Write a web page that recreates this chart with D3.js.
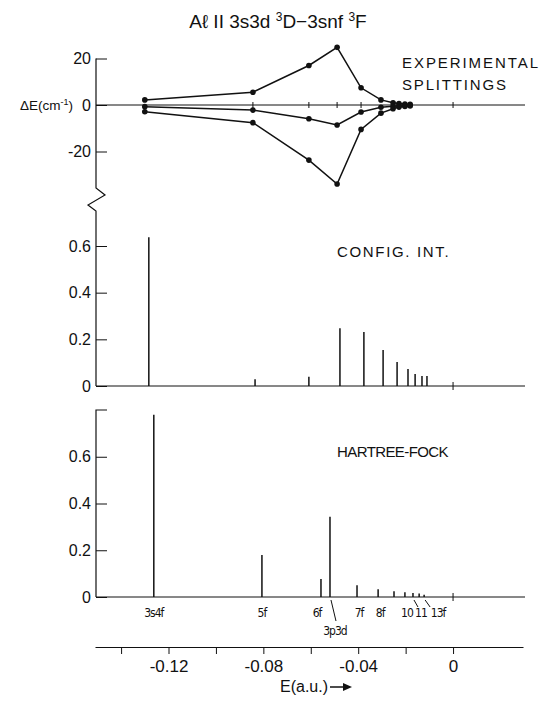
<!DOCTYPE html>
<html>
<head>
<meta charset="utf-8">
<script src="https://cdn.jsdelivr.net/npm/d3@7"></script>
<style>
  body { margin: 0; background: #fff; }
  svg { display: block; }
  text { font-family: 'Liberation Sans', Arial, sans-serif; fill: #111; }
  .narrow { font-family: 'DejaVu Sans Condensed', 'DejaVu Sans', sans-serif; font-stretch: condensed; }
  .tick line, .domain { stroke: #111; }
</style>
</head>
<body>
<script>
// experimental splittings (cm-1) vs level energy (a.u.)
const expE = [-0.130, -0.0844, -0.0608, -0.0489, -0.0388, -0.0304, -0.0253, -0.0228, -0.0203, -0.0181];
const expA = [2.2, 5.5, 17, 24.8, 7.4, 2.2, 1.0, 0.6, 0.4, 0.3];
const expB = [-0.7, -2.2, -5.9, -8.6, -3.0, -1.0, -0.5, -0.3, -0.2, -0.1];
const expC = [-2.9, -7.6, -23.7, -34, -10.5, -3.5, -1.6, -0.9, -0.6, -0.4];

// config. int. strengths
const ciE = [-0.1283, -0.0835, -0.0608, -0.0477, -0.0376, -0.0295, -0.0236, -0.0190, -0.0160, -0.0131, -0.0110];
const ciI = [0.638, 0.029, 0.040, 0.248, 0.231, 0.154, 0.103, 0.073, 0.051, 0.043, 0.043];

// hartree-fock strengths
const hfE = [-0.1262, -0.0806, -0.0557, -0.0519, -0.0405, -0.0316, -0.0249, -0.0203, -0.0169, -0.0143, -0.0122];
const hfI = [0.78, 0.18, 0.077, 0.343, 0.05, 0.033, 0.025, 0.02, 0.017, 0.015, 0.01];

const levelLabels = ['3s4f', '5f', '6f', '3p3d', '7f', '8f', '10', '11', '13f'];
const levelIndex = [0, 1, 2, 3, 4, 5, 7, 8, 10];

const yTicks = [0, 0.2, 0.4, 0.6];
const xTicks = [-0.14, -0.12, -0.10, -0.08, -0.06, -0.04, -0.02, 0];
const xLabels = ['', '-0.12', '', '-0.08', '', '-0.04', '', '0'];

const W = 540, H = 702;
const svg = d3.select('body').append('svg')
  .attr('width', W)
  .attr('height', H);

const x = d3.scaleLinear().domain([-0.151, 0.0295]).range([95, 523]);
const yTop = d3.scaleLinear().domain([-20, 20]).range([151.5, 58.5]);
const yMid = d3.scaleLinear().domain([0, 0.6]).range([386, 246]);
const yBot = d3.scaleLinear().domain([0, 0.8]).range([597, 410]);
const axisX = 96;

// title
const title = svg.append('text')
  .attr('x', 278)
  .attr('y', 28)
  .attr('text-anchor', 'middle')
  .style('font-size', '19px');
title.append('tspan').text('Aℓ II 3s3d ');
title.append('tspan').attr('dy', -7).style('font-size', '12px').text('3');
title.append('tspan').attr('dy', 7).text('D−3snf ');
title.append('tspan').attr('dy', -7).style('font-size', '12px').text('3');
title.append('tspan').attr('dy', 7).text('F');

const fmt = d => String(d).replace('−', '-');

// ---- top panel: experimental splittings
const gTop = svg.append('g').attr('transform', `translate(${axisX},0)`);
gTop.call(d3.axisLeft(yTop).tickValues([20, 0, -20]).tickSizeInner(-11).tickSizeOuter(0).tickPadding(5).tickFormat(fmt))
  .call(g => g.select('.domain').remove())
  .call(g => g.selectAll('.tick text').style('font-size', '16px'));

svg.append('text')
  .attr('x', 73)
  .attr('y', yTop(0))
  .attr('dy', '0.35em')
  .attr('text-anchor', 'end')
  .style('font-size', '13.5px')
  .call(t => {
    t.append('tspan').text('ΔE(cm');
    t.append('tspan').attr('dy', -5).style('font-size', '9px').text('-1');
    t.append('tspan').attr('dy', 5).text(')');
  });

// axis spine with break
svg.append('path')
  .attr('d', `M${axisX},${yTop(20)}V188L105,195L88,205L${axisX},211V${yMid(0)}`)
  .attr('fill', 'none')
  .attr('stroke', '#111')
  .attr('stroke-width', 1.2);

svg.append('line')
  .attr('x1', axisX).attr('x2', x.range()[1] + 2)
  .attr('y1', yTop(0)).attr('y2', yTop(0))
  .attr('stroke', '#111').attr('stroke-width', 1);

svg.append('g').selectAll('line')
  .data(expE.slice(1, 5).concat([0]))
  .join('line')
  .attr('x1', d => x(d)).attr('x2', d => x(d))
  .attr('y1', yTop(0) - 3).attr('y2', yTop(0) + 3)
  .attr('stroke', '#111');

const line = d3.line()
  .x((d, i) => x(expE[i]))
  .y(d => yTop(d));

const series = [expA, expB, expC];
svg.append('g').selectAll('path')
  .data(series)
  .join('path')
  .attr('d', line)
  .attr('fill', 'none')
  .attr('stroke', '#111')
  .attr('stroke-width', 1.5);

svg.append('g').selectAll('g')
  .data(series)
  .join('g')
  .selectAll('circle')
  .data(d => d)
  .join('circle')
  .attr('cx', (d, i) => x(expE[i]))
  .attr('cy', d => yTop(d))
  .attr('r', 2.8)
  .attr('fill', '#111');

svg.append('text').attr('x', 402).attr('y', 68).attr('textLength', 136).attr('lengthAdjust', 'spacing')
  .style('font-size', '15px').text('EXPERIMENTAL');
svg.append('text').attr('x', 402).attr('y', 90).attr('textLength', 104).attr('lengthAdjust', 'spacing')
  .style('font-size', '15px').text('SPLITTINGS');

// ---- stick panels
function sticks (yScale, energies, strengths, label, labelY) {
  const g = svg.append('g');
  g.append('g').attr('transform', `translate(${axisX},0)`)
    .call(d3.axisLeft(yScale).tickValues(yTicks).tickSizeInner(-11).tickSizeOuter(0).tickPadding(5)
      .tickFormat(d => d === 0 ? '0' : d3.format('.1f')(d)))
    .call(a => a.select('.domain').remove())
    .call(a => a.selectAll('.tick text').style('font-size', '16px'));

  g.append('line')
    .attr('x1', axisX).attr('x2', x.range()[1] + 2)
    .attr('y1', yScale(0)).attr('y2', yScale(0))
    .attr('stroke', '#111');

  g.append('line')
    .attr('x1', x(0)).attr('x2', x(0))
    .attr('y1', yScale(0) - 4).attr('y2', yScale(0) + 4)
    .attr('stroke', '#111');

  g.selectAll('.stick')
    .data(strengths)
    .join('line')
    .attr('class', 'stick')
    .attr('x1', (d, i) => x(energies[i]))
    .attr('x2', (d, i) => x(energies[i]))
    .attr('y1', yScale(0))
    .attr('y2', d => yScale(d))
    .attr('stroke', '#111')
    .attr('stroke-width', 1.5);

  g.append('text')
    .attr('x', 337)
    .attr('y', labelY)
    .attr('textLength', label.length * 9.3)
    .attr('lengthAdjust', 'spacing')
    .style('font-size', '15px')
    .text(label);
  return g;
}

sticks(yMid, ciE, ciI, 'CONFIG. INT.', 257);
sticks(yBot, hfE, hfI, 'HARTREE-FOCK', 457);

// bottom panel spine (bracketed top)
svg.append('path')
  .attr('d', `M${axisX + 11},${yBot(0.8)}H${axisX}V${yBot(0)}`)
  .attr('fill', 'none')
  .attr('stroke', '#111')
  .attr('stroke-width', 1.2);

// level labels
const labelDx = [0, 0, -4, 5, 2, 2, 2, 8, 14];
const labelDy = [20, 20, 20, 38, 20, 20, 20, 20, 20];
svg.append('g').selectAll('text')
  .data(levelLabels)
  .join('text')
  .attr('class', 'narrow')
  .attr('x', (d, i) => x(hfE[levelIndex[i]]) + labelDx[i])
  .attr('y', (d, i) => yBot(0) + labelDy[i])
  .attr('text-anchor', 'middle')
  .style('font-size', '12px')
  .style('letter-spacing', '-1px')
  .text(d => d);

// leader lines for 3p3d, 11 and 13f
svg.append('g').selectAll('line')
  .data([3, 8, 10])
  .join('line')
  .attr('x1', d => x(hfE[d]) + 1)
  .attr('x2', (d, i) => x(hfE[d]) + [6, 5, 6][i])
  .attr('y1', yBot(0) + 3)
  .attr('y2', (d, i) => yBot(0) + [24, 10, 10][i])
  .attr('stroke', '#111');

// ---- energy axis
svg.append('g')
  .attr('transform', 'translate(0,647)')
  .call(d3.axisBottom(x).tickValues(xTicks).tickSizeInner(7).tickSizeOuter(0).tickPadding(6)
    .tickFormat((d, i) => xLabels[i]))
  .call(g => g.selectAll('.tick text').style('font-size', '17px'))
  .call(g => g.select('.domain').attr('stroke-width', 1.2));

svg.append('text')
  .attr('x', 304)
  .attr('y', 692)
  .attr('text-anchor', 'middle')
  .style('font-size', '16px')
  .text('E(a.u.)');

svg.append('line')
  .attr('x1', 330).attr('x2', 344)
  .attr('y1', 687).attr('y2', 687)
  .attr('stroke', '#111').attr('stroke-width', 1.5);
svg.append('path')
  .attr('d', 'M343,683L352,687L343,691Z')
  .attr('fill', '#111');
</script>
</body>
</html>
